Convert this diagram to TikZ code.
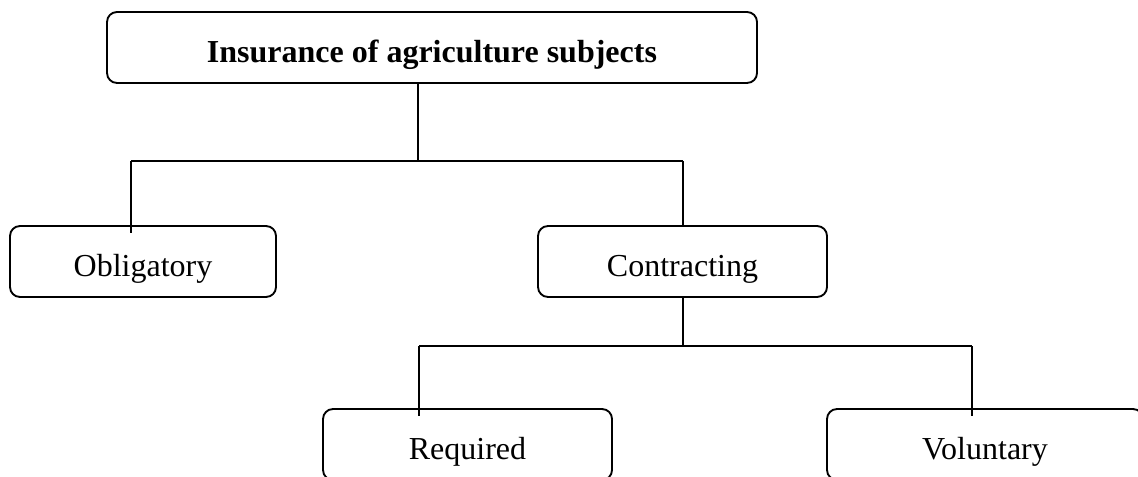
\documentclass[tikz,border=0pt]{standalone}
\usepackage{fontspec}
\setmainfont{Liberation Serif}
\begin{document}
\begin{tikzpicture}[x=0.75pt,y=-0.75pt,
  box/.style={draw, line width=1.4pt, rounded corners=7.5pt, minimum height=53.25pt,
    inner sep=0pt, text height=22.5pt, text depth=0pt, font=\fontsize{24}{28}\selectfont},
  conn/.style={line width=1.4pt}]
\useasboundingbox (0,0) rectangle (1138,477);
\clip (0,0) rectangle (1138,477);
\node[box, minimum width=487.5pt, font=\fontsize{24}{28}\selectfont\bfseries] (top) at (432,47.5) {Insurance of agriculture subjects};
\node[box, minimum width=199.5pt] (obl) at (143,261.5) {Obligatory};
\node[box, minimum width=216.75pt] (con) at (682.5,261.5) {Contracting};
\node[box, minimum width=216.75pt] (req) at (467.5,444.5) {Required};
\node[box, minimum width=237pt] (vol) at (985,444.5) {Voluntary};
\coordinate (j1) at (418,161);
\coordinate (j1l) at (131,161);
\coordinate (j1r) at (683,161);
\coordinate (j2) at (683,346);
\coordinate (j2l) at (419,346);
\coordinate (j2r) at (972,346);
\draw[conn] (top.south -| j1) -- (j1);
\draw[conn] (j1l) -- (j1r);
\draw[conn] (j1l) -- ([yshift=-6pt]obl.north -| j1l);
\draw[conn] (j1r) -- (con.north -| j1r);
\draw[conn] (con.south -| j2) -- (j2);
\draw[conn] (j2l) -- (j2r);
\draw[conn] (j2l) -- ([yshift=-6pt]req.north -| j2l);
\draw[conn] (j2r) -- ([yshift=-6pt]vol.north -| j2r);
\end{tikzpicture}
\end{document}
